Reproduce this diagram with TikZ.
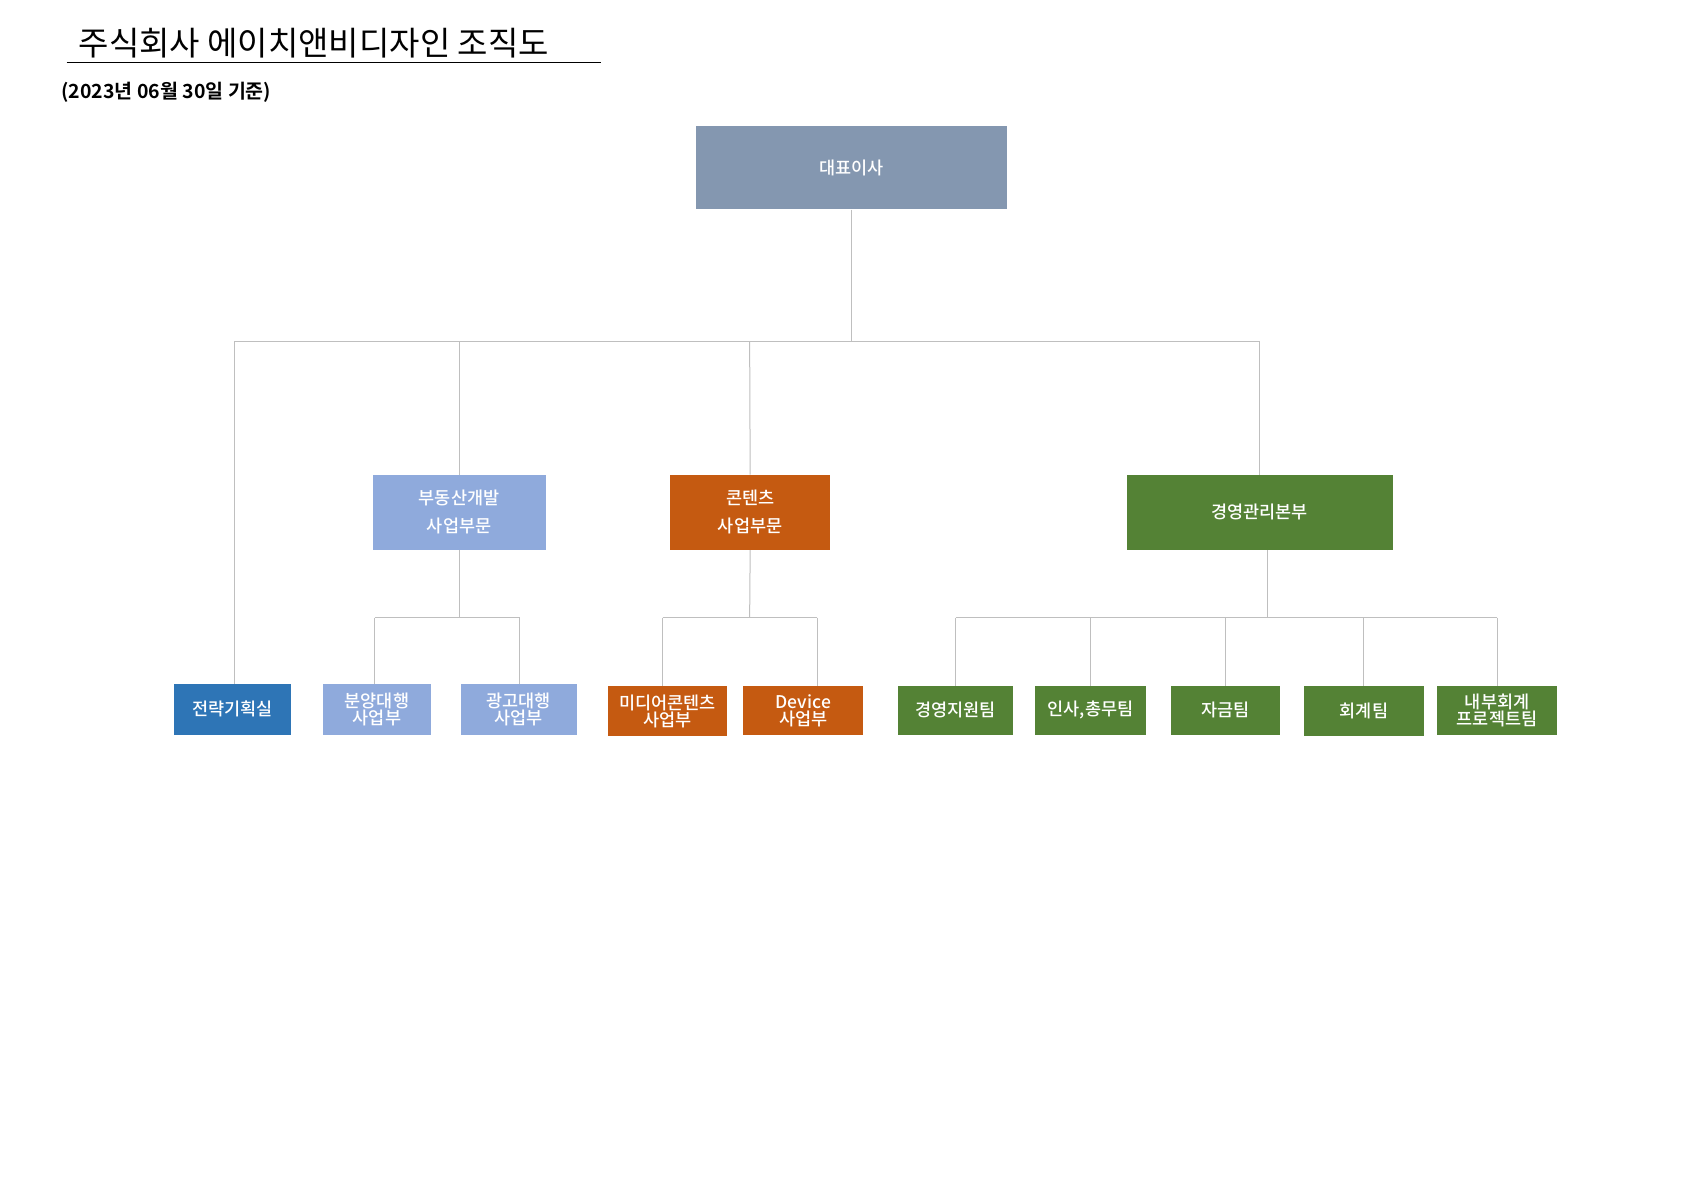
\documentclass[tikz,border=0pt]{standalone}
\usepackage{fontspec}
\setmainfont{Noto Sans CJK KR}
\newfontfamily\krb[BoldFont={Noto Sans CJK KR Bold}]{Noto Sans CJK KR Medium}
\definecolor{cTop}{HTML}{8497B0}
\definecolor{cLB}{HTML}{8FAADC}
\definecolor{cOr}{HTML}{C55A11}
\definecolor{cGr}{HTML}{548235}
\definecolor{cBl}{HTML}{2E75B6}
\definecolor{cLn}{HTML}{BFBFBF}
\newcommand{\orgbox}[7]{%
  \node[orgnode,fill=#6,minimum width={(#4-#2)*1.074},minimum height={(#5-#3)*1.074}] (#1) at ({(#2+#4)/2},{-(#3+#5)/2}) {#7};}
\tikzset{orgnode/.style={draw=none,inner sep=1pt,text=white,align=center,font=\krb\fontsize{17.5}{18}\selectfont},
 conn/.style={draw=cLn,line width=1pt}}
\begin{document}
\begin{tikzpicture}[x=1.074pt,y=1.074pt]
\useasboundingbox (0,0) rectangle (1568,-1109);
\node[anchor=west,font=\fontsize{33}{36}\selectfont] (title) at (70,-40) {주식회사 에이치앤비디자인 조직도};
\coordinate (ul1) at (62,-58); \coordinate (ul2) at (560,-58);
\draw[line width=1pt] (ul1) -- (ul2);
\node[anchor=west,font=\krb\bfseries\fontsize{19.5}{21}\selectfont] (sub) at (54,-86) {(2023년 06월 30일 기준)};
\orgbox{ceo}{648}{117}{938}{195}{cTop}{대표이사}
\orgbox{re}{347}{442}{508}{512}{cLB}{부동산개발\\[10pt]사업부문}
\orgbox{ct}{624}{442}{773}{512}{cOr}{콘텐츠\\[10pt]사업부문}
\orgbox{mg}{1049}{442}{1297}{512}{cGr}{경영관리본부}
\orgbox{st}{162}{637}{271}{684}{cBl}{전략기획실}
\orgbox{bu}{301}{637}{401}{684}{cLB}{분양대행\\[-1pt]사업부}
\orgbox{ad}{429}{637}{537}{684}{cLB}{광고대행\\[-1pt]사업부}
\orgbox{md}{566}{639}{677}{685}{cOr}{미디어콘텐츠\\[-1pt]사업부}
\orgbox{dv}{692}{639}{804}{684}{cOr}{Device\\[-1pt]사업부}
\orgbox{g1}{836}{639}{943}{684}{cGr}{경영지원팀}
\orgbox{g2}{964}{639}{1067}{684}{cGr}{인사,총무팀}
\orgbox{g3}{1090}{639}{1192}{684}{cGr}{자금팀}
\orgbox{g4}{1214}{639}{1326}{685}{cGr}{회계팀}
\orgbox{g5}{1338}{639}{1450}{684}{cGr}{내부회계\\[-1pt]프로젝트팀}
% level 1
\draw[conn] (ceo.south) -- (793,-318);
\draw[conn] (218,-318) -- (1173,-318);
\draw[conn] (218,-318) -- (st.north -| 218,0);
\draw[conn] (428,-318) -- (re.north -| 428,0);
\draw[conn] (698,-318) -- (ct.north);
\draw[conn] (1173,-318) -- (mg.north);
% re
\draw[conn] (re.south -| 428,0) -- (428,-575);
\draw[conn] (349,-575) -- (484,-575);
\draw[conn] (349,-575) -- (bu.north -| 349,0);
\draw[conn] (484,-575) -- (ad.north -| 484,0);
% ct
\draw[conn] (ct.south) -- (698,-575);
\draw[conn] (617,-575) -- (761,-575);
\draw[conn] (617,-575) -- (md.north -| 617,0);
\draw[conn] (761,-575) -- (dv.north -| 761,0);
% mg
\draw[conn] (mg.south -| 1180,0) -- (1180,-575);
\draw[conn] (890,-575) -- (1394,-575);
\draw[conn] (890,-575) -- (g1.north -| 890,0);
\draw[conn] (1015,-575) -- (g2.north -| 1015,0);
\draw[conn] (1141,-575) -- (g3.north -| 1141,0);
\draw[conn] (1270,-575) -- (g4.north -| 1270,0);
\draw[conn] (1394,-575) -- (g5.north -| 1394,0);
\end{tikzpicture}
\end{document}
